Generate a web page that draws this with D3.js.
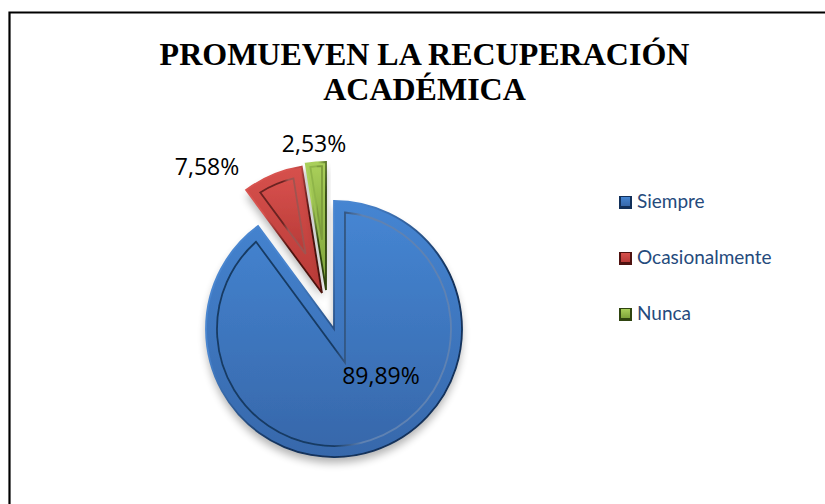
<!DOCTYPE html>
<html><head><meta charset="utf-8">
<script src="https://cdn.jsdelivr.net/npm/d3@7/dist/d3.min.js"></script>
<style>html,body{margin:0;padding:0;background:#fff}svg{display:block}</style>
</head><body><div id="c"></div>
<script>
const categories = ["Siempre", "Ocasionalmente", "Nunca"];
const seriesValues = [89.89, 7.58, 2.53];
const valueLabels = ["89,89%", "7,58%", "2,53%"];
const titleLines = ["PROMUEVEN LA RECUPERACIÓN", "ACADÉMICA"];

const W = 825, H = 504;
const cx = 334, cy = 329, R = 128;
const explode = [[0,0],[-12,-36],[-8,-39]];
const bevel = [11,10,4];
const pal = [
 {top:"#4585d2",bot:"#3768ab",rim:"#4a86d0",dark:"#12305a",line0:"#173a63",line1:"#5f82b2"},
 {top:"#d6504c",bot:"#b83a37",rim:"#d8534f",dark:"#4e1210",line0:"#6a2220",line1:"#a05350"},
 {top:"#a9cf5a",bot:"#7ea33a",rim:"#a9cf5a",dark:"#2f4410",line0:"#8fb548",line1:"#7d9c3c"}
];
const labelPos = [[381,384],[207,175],[314,152]];

const svg = d3.select("#c").append("svg").attr("width",W).attr("height",H);
const defs = svg.append("defs");
defs.append("filter").attr("id","sh").attr("x","-20%").attr("y","-20%").attr("width","140%").attr("height","140%")
  .append("feGaussianBlur").attr("stdDeviation",4);
defs.append("filter").attr("id","soft").attr("x","-10%").attr("y","-10%").attr("width","120%").attr("height","120%")
  .append("feGaussianBlur").attr("stdDeviation",0.7);
pal.forEach((p,i)=>{
  const g=defs.append("linearGradient").attr("id","f"+i).attr("x1",0).attr("y1",0).attr("x2",0).attr("y2",1);
  g.append("stop").attr("offset",0).attr("stop-color",p.top);
  g.append("stop").attr("offset",1).attr("stop-color",p.bot);
  const s=defs.append("linearGradient").attr("id","l"+i).attr("x1",0).attr("y1",0).attr("x2",1).attr("y2",0);
  s.append("stop").attr("offset",0).attr("stop-color",p.line0);
  s.append("stop").attr("offset",.5).attr("stop-color",p.line0);
  s.append("stop").attr("offset",.62).attr("stop-color",p.line1);
  s.append("stop").attr("offset",1).attr("stop-color",p.line1);
  const e=defs.append("linearGradient").attr("id","e"+i).attr("x1",0).attr("y1",0).attr("x2",1).attr("y2",1);
  e.append("stop").attr("offset",0).attr("stop-color",p.rim);
  e.append("stop").attr("offset",.3).attr("stop-color",p.rim);
  e.append("stop").attr("offset",.62).attr("stop-color",p.dark);
  e.append("stop").attr("offset",1).attr("stop-color",p.dark);
});

// Frame: only top and left edges are visible in the reference
const frame = d3.line()([[9.5,504],[9.5,12.5],[825,12.5]]);
svg.append("path").attr("d",frame).attr("fill","none").attr("stroke","#000").attr("stroke-width",2.2);

svg.append("g").selectAll("text").data(titleLines).join("text")
  .attr("x",424.5).attr("y",(d,i)=>65+i*35)
  .attr("text-anchor","middle").attr("font-family","'Liberation Serif'")
  .attr("font-weight","bold").attr("font-size",32).attr("fill","#000").text(d=>d);

const arcs = d3.pie().sort(null).value(d=>d)(seriesValues);
const arcGen = d3.arc().innerRadius(0).outerRadius(R);

function innerPath(a0,a1,d,r){
  const half=(a1-a0)/2, mid=(a0+a1)/2, k=d/Math.sin(half), rr=r-d, sh=Math.asin(d/rr);
  const ax=k*Math.sin(mid), ay=-k*Math.cos(mid);
  const p=d3.path();
  p.moveTo(ax,ay);
  const b0=a0+sh-Math.PI/2, b1=a1-sh-Math.PI/2;
  p.lineTo(rr*Math.cos(b0),rr*Math.sin(b0));
  p.arc(0,0,rr,b0,b1,false);
  p.closePath();
  return p.toString();
}

const slices = svg.append("g").selectAll("g").data(arcs).join("g")
  .attr("transform",(d,i)=>`translate(${cx+explode[i][0]},${cy+explode[i][1]})`);
slices.append("path").attr("d",arcGen).attr("fill","#000").attr("opacity",.3)
  .attr("transform","translate(0,6)").attr("filter","url(#sh)");
slices.append("path").attr("d",arcGen).attr("fill",(d,i)=>`url(#f${i})`);
slices.append("path").attr("d",(d,i)=>innerPath(d.startAngle,d.endAngle,bevel[i],R))
  .attr("fill",(d,i)=>`url(#f${i})`)
  .attr("stroke",(d,i)=>`url(#l${i})`).attr("stroke-width",1.8).attr("filter","url(#soft)");
slices.append("path").attr("d",arcGen).attr("fill","none")
  .attr("stroke",(d,i)=>`url(#e${i})`).attr("stroke-width",1.8)
  .attr("filter","url(#soft)");

svg.append("g").selectAll("text").data(valueLabels).join("text")
  .attr("x",(d,i)=>labelPos[i][0]).attr("y",(d,i)=>labelPos[i][1])
  .attr("text-anchor","middle").attr("font-family","'Open Sans'")
  .attr("font-size",23).attr("fill","#000").text(d=>d);

const legY = d3.scalePoint().domain(categories).range([202,314]);
const leg = svg.append("g").selectAll("g").data(categories).join("g")
  .attr("transform",d=>`translate(619,${legY(d)})`);
leg.append("rect").attr("x",0).attr("y",-6).attr("width",13).attr("height",13)
  .attr("fill",(d,i)=>pal[i].dark);
leg.append("rect").attr("x",2).attr("y",-5).attr("width",9).attr("height",9)
  .attr("fill",(d,i)=>`url(#f${i})`);
leg.append("text").attr("x",18).attr("y",6)
  .attr("font-family","'Comic Sans MS','Lato','Noto Sans'").attr("font-size",19)
  .attr("fill","#254a7c").text(d=>d);
</script></body></html>
